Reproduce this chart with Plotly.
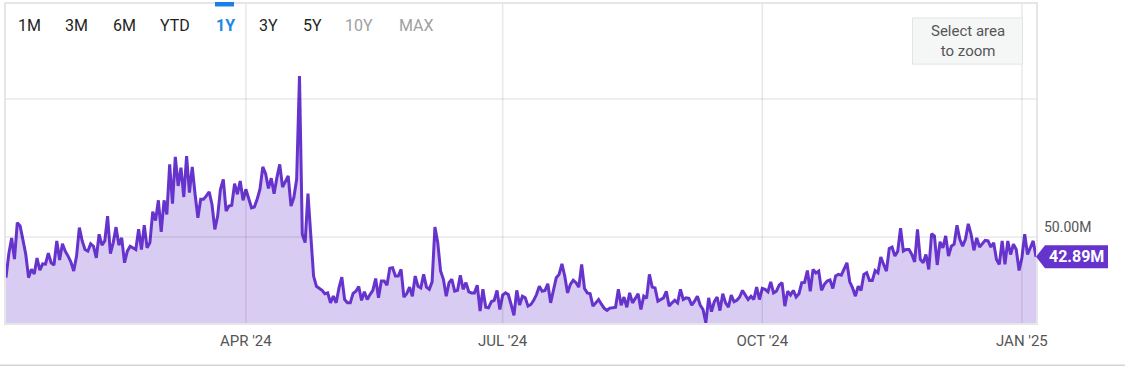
import pandas as pd
import plotly.graph_objects as go

# ---------------- data (daily volume, millions) ----------------
start_date = "2024-01-07"

vol_q1 = [35.3, 44, 49.7, 42, 55.2, 54, 49, 43.8, 35.3, 38.4,
          36.6, 42.4, 38, 40.3, 40.2, 44.2, 40.7, 39.9, 48.6, 41.7,
          47.6, 44.9, 43.1, 41, 37.7, 43.1, 53.4, 48.6, 45.5, 44.9,
          47.6, 46.7, 42.5, 51, 47.1, 48.6, 57.6, 44, 48, 53.6,
          47.1, 49.7, 40.7, 44.9, 46.7, 46.1, 45.5, 52.8, 45.5, 54.3,
          46.1, 48, 59.2, 56, 63.3, 51.9, 63.3, 58.2, 76.3, 62.1,
          79, 68.5, 75.1, 64.5, 79.3, 66.1, 75.4, 65.5, 57, 63.7,
          63.7, 64.9, 66.4, 61.8, 52.8, 57.6, 67.3, 70.9, 59.4, 61.2,
          61.5, 69.3, 65.5, 70.3, 63.3]

vol_q2 = [67.3, 64.2, 60.6, 60.9, 63.7,
          67.3, 75.4, 72.9, 67.6, 71.3, 65.7, 71.5, 76.3, 68.1, 70.3,
          72.1, 61.2, 64.3, 70.9, 108.3, 51, 48, 65.7, 51, 35.9,
          32.2, 31.4, 30.7, 29.5, 29.8, 26.2, 28.6, 26.2, 31.6, 35.5,
          27.4, 26.2, 26.2, 29.6, 30.4, 32.1, 27.1, 30.2, 27.4, 29.2,
          30.7, 35, 28, 34.1, 34.1, 32.6, 38.7, 38.9, 35.9, 35.9,
          38.3, 28.3, 29.5, 31.9, 28.6, 35.9, 32.2, 31.6, 36.5, 31.9,
          31.1, 33.8, 53.6, 48, 37.7, 34.7, 28.6, 33.5, 34.7, 30.4,
          30.7, 36.2, 31.1, 33.5, 30.2, 29.8, 29.8, 32.6, 23.2, 31.1,
          24.6, 24.4, 26.6, 27.1, 30.7, 23.8]

vol_q3 = [29, 29.8, 29.2, 25.6,
          21.7, 30.7, 25.4, 28.6, 28, 25, 25.6, 27.1, 29.2, 32.2,
          30.4, 30.7, 33.1, 26.2, 31.4, 35.3, 36.5, 40.3, 35.9, 29.8,
          32.9, 34.4, 33.5, 31.9, 40.1, 31.4, 29.8, 29.5, 25, 26.2,
          27.4, 25.7, 24.2, 23.5, 24.3, 24.4, 24.6, 31.1, 25.3, 28.3,
          24.6, 29.8, 26.2, 27.8, 29.5, 23.8, 28.6, 27.8, 36.5, 31.9,
          31.6, 26.8, 27.4, 28, 30.4, 25, 26.2, 27.1, 26.2, 31.1,
          27.4, 28, 27.8, 25.4, 26.8, 28.6, 25.4, 23.8, 19, 28,
          23, 26.6, 28.3, 23.4, 29.5, 26.2, 24.6, 29, 26.6, 27.1,
          28.3, 30.7, 29, 27.4, 28.6, 27.4, 31.9, 27.4]

vol_q4 = [31.4, 31.1,
          30.2, 33.8, 29.8, 30.4, 32.6, 33.5, 25, 30.4, 29, 30.7,
          28.3, 29.5, 33.5, 33.6, 37.9, 30.4, 38.3, 37, 37.7, 30.7,
          32.9, 34.1, 34.5, 31.4, 35.9, 36.5, 36.2, 38.5, 40.7, 33.8,
          31.6, 28.6, 32.2, 30.7, 36.5, 37.1, 34.3, 34.3, 37.9, 37.1,
          42.8, 40.1, 37.7, 45.9, 46.4, 43.1, 44.9, 53.2, 44.9, 45.5,
          45.5, 43.7, 41, 52.8, 41.9, 40.7, 43.7, 38.3, 51.2, 50.4,
          39.9, 48.3, 46.1, 50.4, 43.1, 46.7, 47.4, 54.3, 49.2, 46.7,
          49.2, 54.8, 51, 45.2, 49.7, 46.4, 47.6, 48.8, 48.6, 46.4,
          47.9, 41.9, 40.1, 48.6, 40.1, 48.6, 43.7, 47.4, 45.5, 37.9,
          42.5, 51, 43.7, 46.1, 48.6, 42.89]

volume_m = vol_q1 + vol_q2 + vol_q3 + vol_q4
assert len(volume_m) == 366, len(volume_m)
dates = pd.date_range(start_date, periods=len(volume_m), freq="D")

tick_dates = ["2024-04-01", "2024-07-01", "2024-10-01", "2025-01-01"]
tick_labels = ["APR '24", "JUL '24", "OCT '24", "JAN '25"]
y_grid_values = [50, 100]
y_label_value = 50
y_label_text = "50.00M"
last_label = "42.89M"

range_buttons = ["1M", "3M", "6M", "YTD", "1Y", "3Y", "5Y", "10Y", "MAX"]
button_state = ["on", "on", "on", "on", "active", "on", "on", "off", "off"]

# ---------------- layout geometry (pixels) ----------------
W, H = 1125, 369
L, R, T, B = 6, 1036, 2, 323
PW, PH = R - L, B - T


def px_x(p):
    return (p - L) / PW


def px_y(p):
    return (B - p) / PH


button_centers = [29, 76, 124, 175, 225, 268, 312, 359, 416]
button_colors = {"on": "#1f1f1f", "active": "#1e88e5", "off": "#a0a0a0"}

LINE = "#6633cc"
FILL = "rgba(102,51,204,0.25)"
GRID = "rgba(0,0,0,0.09)"

fig = go.Figure()
fig.add_trace(go.Scatter(
    x=dates, y=volume_m, mode="lines",
    line=dict(color=LINE, width=3),
    fill="tozeroy", fillcolor=FILL,
    hoverinfo="skip",
))

shapes = []
for d in tick_dates:
    shapes.append(dict(type="line", xref="x", yref="paper", x0=d, x1=d, y0=0, y1=1,
                       line=dict(color=GRID, width=1.5), layer="above"))
for v in y_grid_values:
    shapes.append(dict(type="line", xref="paper", yref="y", x0=0, x1=1, y0=v, y1=v,
                       line=dict(color=GRID, width=1.5), layer="above"))

# last value badge (arrow + box)
shapes.append(dict(type="path", xref="paper", yref="y",
                   xsizemode="pixel", ysizemode="pixel",
                   xanchor=1, yanchor=volume_m[-1],
                   path="M 0 0 L 9 11.5 L 72 11.5 L 72 -11.5 L 9 -11.5 Z",
                   fillcolor=LINE, line=dict(width=0), layer="above"))

# active range indicator
shapes.append(dict(type="rect", xref="paper", yref="paper",
                   x0=px_x(215), x1=px_x(234), y0=px_y(4.5), y1=px_y(0),
                   fillcolor="#1a80e5", line=dict(width=0), layer="above"))

# select area box
shapes.append(dict(type="rect", xref="paper", yref="paper",
                   x0=px_x(912.5), x1=px_x(1022.5), y0=px_y(62.5), y1=px_y(16),
                   fillcolor="#f5f7f7", line=dict(color="#e2e4e4", width=1), layer="above"))

# bottom separator
shapes.append(dict(type="line", xref="paper", yref="paper",
                   x0=px_x(0), x1=px_x(W), y0=px_y(365.5), y1=px_y(365.5),
                   line=dict(color="#d4d4d4", width=1.5)))

annotations = []
for name, state, cx in zip(range_buttons, button_state, button_centers):
    txt = "<b>" + name + "</b>" if state == "active" else name
    annotations.append(dict(text=txt, xref="paper", yref="paper", x=px_x(cx), y=px_y(24),
                            xanchor="center", yanchor="middle", showarrow=False,
                            font=dict(family="Roboto", size=16, color=button_colors[state])))

annotations.append(dict(text="Select area<br>to zoom", xref="paper", yref="paper",
                        x=px_x(967.5), y=px_y(39.5), xanchor="center", yanchor="middle",
                        showarrow=False, align="center",
                        font=dict(family="Roboto", size=15, color="#555555")))

annotations.append(dict(text=y_label_text, xref="paper", yref="y", x=1, y=y_label_value,
                        xanchor="left", yanchor="bottom", xshift=6, yshift=0, showarrow=False,
                        font=dict(family="Roboto", size=14, color="#555555")))

annotations.append(dict(text="<b>" + last_label + "</b>", xref="paper", yref="y", x=1,
                        y=volume_m[-1], xanchor="left", yanchor="middle", xshift=11,
                        showarrow=False,
                        font=dict(family="Roboto", size=16, color="white")))

fig.update_layout(
    width=W, height=H,
    margin=dict(l=L, r=W - R, t=T, b=H - B, pad=0),
    paper_bgcolor="white", plot_bgcolor="white",
    showlegend=False,
    font=dict(family="Roboto", color="#555555"),
    shapes=shapes, annotations=annotations,
    xaxis=dict(type="date", range=[dates[0], dates[-1]],
               tickvals=tick_dates, ticktext=tick_labels,
               showgrid=False, zeroline=False,
               showline=True, mirror=True, linecolor="#e6e6e6", linewidth=2,
               ticks="", ticklabelstandoff=3,
               tickfont=dict(family="Roboto", size=15, color="#555555"),
               fixedrange=True),
    yaxis=dict(range=[18.9, 134.35], showgrid=False, zeroline=False,
               showticklabels=False, ticks="",
               showline=True, mirror=True, linecolor="#e6e6e6", linewidth=2,
               fixedrange=True),
)

fig.write_html("out.html", config={"displayModeBar": False},
               post_script="document.body.style.margin='0';document.body.style.padding='0';")
